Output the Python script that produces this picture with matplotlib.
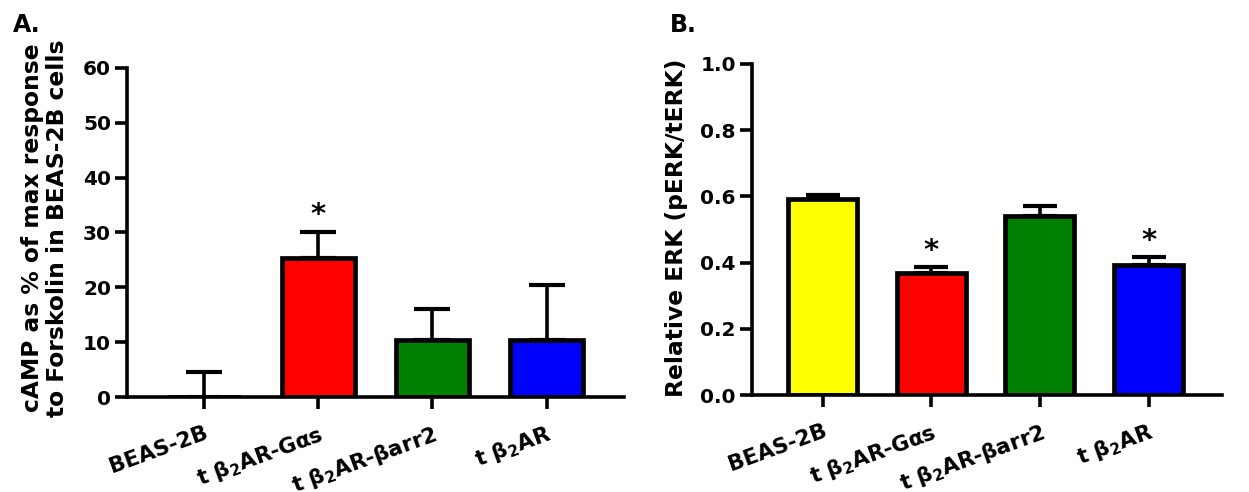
import matplotlib
matplotlib.use("Agg")
import matplotlib.pyplot as plt
import numpy as np

plt.rcParams['font.family'] = ['DejaVu Sans']
plt.rcParams['font.weight'] = 'bold'
plt.rcParams['mathtext.fontset'] = 'dejavusans'

categories = ['BEAS-2B', r't β$_2$AR-Gαs', r't β$_2$AR-βarr2', r't β$_2$AR']
colors = ['#ffff00', '#ff0000', '#008000', '#0000ff']

camp_mean = [0.0, 25.4, 10.4, 10.4]
camp_err = [4.6, 4.6, 5.7, 10.1]
camp_sig = [False, True, False, False]

erk_mean = [0.592, 0.370, 0.541, 0.392]
erk_err = [0.012, 0.018, 0.030, 0.026]
erk_sig = [False, True, False, True]

fig = plt.figure(figsize=(12.49, 4.92), dpi=100)
axA = fig.add_axes([0.1017, 0.193, 0.398, 0.669])
axB = fig.add_axes([0.602, 0.197, 0.376, 0.673])

def draw(ax, means, errs, sig, ylim, yticks, fmt, width, xlim, capsize, star_off, ylabel, lx, ly):
    x = np.arange(len(categories))
    ax.errorbar(x, means, yerr=[np.zeros(len(errs)), errs], fmt='none', ecolor='black',
                elinewidth=2.6, capsize=capsize, capthick=3.0, zorder=1)
    ax.bar(x, means, width=width, color=colors, edgecolor='black', linewidth=3.4, zorder=2)
    for xi, m, e, s in zip(x, means, errs, sig):
        if s:
            ax.text(xi, m + e + star_off, '*', ha='center', va='bottom', fontsize=21,
                    fontweight='bold', zorder=3)
    ax.set_xlim(*xlim)
    ax.set_ylim(*ylim)
    ax.set_yticks(yticks)
    ax.set_yticklabels([fmt.format(v) for v in yticks], fontsize=14.5, fontweight='bold')
    ax.set_xticks(x)
    ax.set_xticklabels(categories, rotation=20, ha='right', rotation_mode='anchor',
                       fontsize=15.5, fontweight='bold')
    for sp in ['top', 'right']:
        ax.spines[sp].set_visible(False)
    for sp in ['left', 'bottom']:
        ax.spines[sp].set_linewidth(2.6)
    ax.spines['bottom'].set_zorder(4)
    ax.tick_params(axis='both', width=2.6, length=8.5, direction='out')
    ax.tick_params(axis='y', pad=3)
    ax.tick_params(axis='x', pad=10)
    ax.set_ylabel(ylabel, fontsize=16.8, fontweight='bold', linespacing=1.12)
    ax.yaxis.set_label_coords(lx, ly)

draw(axA, camp_mean, camp_err, camp_sig, (0, 60), [0, 10, 20, 30, 40, 50, 60], '{:.0f}',
     0.64, (-0.675, 3.68), 13, 0.6, 'cAMP as % of max response\nto Forskolin in BEAS-2B cells',
     -0.117, 0.514)
draw(axB, erk_mean, erk_err, erk_sig, (0, 1.0), [0.0, 0.2, 0.4, 0.6, 0.8, 1.0], '{:.1f}',
     0.635, (-0.65, 3.67), 12, 0.005, 'Relative ERK (pERK/tERK)', -0.136, 0.505)

fig.text(0.0104, 0.935, 'A.', fontsize=17, fontweight='bold', va='baseline')
fig.text(0.536, 0.935, 'B.', fontsize=17, fontweight='bold', va='baseline')

fig.savefig('out.png', dpi=100)
